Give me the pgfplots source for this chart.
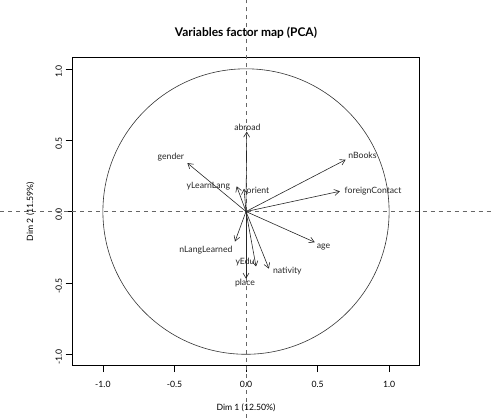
\documentclass[border=0pt]{standalone}
\usepackage{fontspec}
\setmainfont{Lato}
\usepackage{pgfplots}
\pgfplotsset{compat=1.18}
\usetikzlibrary{arrows.meta}

% arrow tips (Dim 1, Dim 2)
\pgfplotstableread{
name            x       y      lx      ly     anc
abroad          0.005   0.56   0.010   0.593  center
gender         -0.41    0.34  -0.525   0.379  center
yLearnLang     -0.065   0.177 -0.263   0.181  center
orient         -0.014   0.16   0.084   0.149  center
nBooks          0.696   0.363  0.814   0.391  center
foreignContact  0.656   0.142  0.888   0.142  center
age             0.48   -0.215  0.541  -0.249  center
nLangLearned   -0.077  -0.21  -0.093  -0.27   east
yEdu            0.07   -0.385 -0.007  -0.354  center
nativity        0.16   -0.40   0.188  -0.417  west
place           0.0    -0.47  -0.007  -0.50   center
}\vars

\begin{document}
\begin{tikzpicture}
\begin{axis}[
  scale only axis,
  width=349pt, height=310pt,
  xmin=-1.216, xmax=1.214, ymin=-1.08, ymax=1.084,
  clip=false,
  axis line style={line width=0.6pt},
  xtick={-1,-0.5,0,0.5,1},
  ytick={-1,-0.5,0,0.5,1},
  xtick pos=bottom, ytick pos=left,
  tick align=outside,
  major tick length=6.5pt,
  tick style={black, line width=0.6pt},
  /pgf/number format/assume math mode=true,
  /pgf/number format/.cd, fixed, fixed zerofill, precision=1,
  /pgfplots/.cd,
  ticklabel style={font=\fontsize{8.7}{10}\selectfont},
  xticklabel style={yshift=-6pt},
  yticklabel style={rotate=90, anchor=south, xshift=-3pt},
]
% reference lines through the origin
\draw[black!60, line width=0.6pt, dash pattern=on 4pt off 4pt]
  (axis cs:-1.717,0) -- (axis cs:1.71,0);
\draw[black!60, line width=0.6pt, dash pattern=on 4pt off 4pt]
  (axis cs:0,-1.445) -- (axis cs:0,1.48);
% correlation circle
\draw[black!80, line width=0.6pt] (axis cs:0,0) circle [radius=1];

\pgfplotsinvokeforeach{0,...,10}{
  \pgfplotstablegetelem{#1}{x}\of\vars \let\vx\pgfplotsretval
  \pgfplotstablegetelem{#1}{y}\of\vars \let\vy\pgfplotsretval
  \edef\tmp{\noexpand\addplot[black!85, line width=0.6pt,
      -{Straight Barb[length=5pt,width=6pt]}]
      coordinates {(0,0) (\vx,\vy)};}
  \tmp
}
\pgfplotsinvokeforeach{0,...,10}{
  \pgfplotstablegetelem{#1}{name}\of\vars \let\vn\pgfplotsretval
  \pgfplotstablegetelem{#1}{lx}\of\vars \let\lx\pgfplotsretval
  \pgfplotstablegetelem{#1}{ly}\of\vars \let\ly\pgfplotsretval
  \pgfplotstablegetelem{#1}{anc}\of\vars \let\la\pgfplotsretval
  \edef\tmp{\noexpand\node[font=\noexpand\fontsize{8.7}{10}\noexpand\selectfont,
      inner sep=0pt, anchor=\la, text=black!85] at (axis cs:\lx,\ly) {\vn};}
  \tmp
}

\node[font=\bfseries\fontsize{12}{14}\selectfont] at (axis cs:0,1.249)
  {Variables factor map (PCA)};
\node[font=\fontsize{8.7}{10}\selectfont] at (axis cs:0,-1.375)
  {Dim 1 (12.50\%)};
\node[font=\fontsize{8.7}{10}\selectfont, rotate=90] at (axis cs:-1.507,0)
  {Dim 2 (11.59\%)};
\end{axis}
\end{tikzpicture}
\end{document}
